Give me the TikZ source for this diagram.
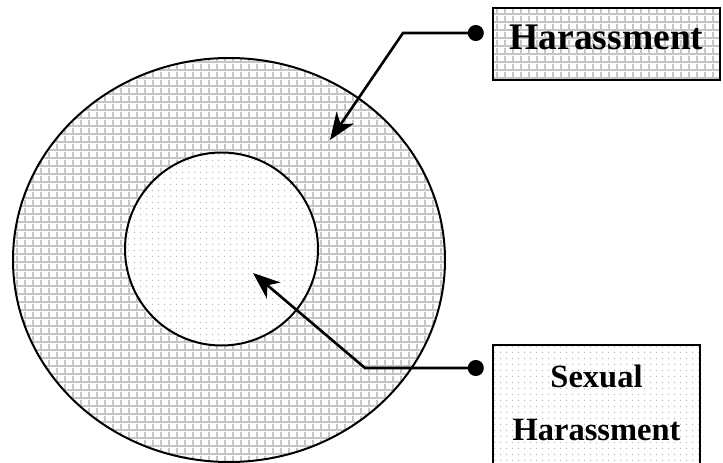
\documentclass[tikz,border=0pt]{standalone}
\usepackage{fontspec}
\setmainfont{Liberation Serif}
\usepackage{tikz}
\usetikzlibrary{arrows.meta,shapes.geometric,patterns.meta}

\tikzdeclarepattern{
  name=crossgrid,
  type=colored,
  bottom left={(0pt,0pt)},
  top right={(8pt,8pt)},
  tile size={(8pt,8pt)},
  code={
    \fill[gray!45] (0pt,0pt) rectangle (8pt,2.2pt);
    \fill[gray!45] (0pt,0pt) rectangle (2.2pt,8pt);
  }
}
\tikzdeclarepattern{
  name=finedots,
  type=colored,
  bottom left={(0pt,0pt)},
  top right={(6pt,6pt)},
  tile size={(6pt,6pt)},
  code={
    \fill[gray!55] (3pt,3pt) circle (0.8pt);
  }
}

\begin{document}
\begin{tikzpicture}[
  x=1pt,y=-1pt,
  >={Stealth[length=27pt,width=21pt,inset=8pt]},
  ring/.style={draw,line width=2pt,inner sep=0pt},
  label box/.style={rectangle,draw,line width=2.4pt,inner sep=0pt,align=center},
  pointer/.style={{Circle[length=16pt]}->,line width=2.6pt,shorten <=8pt}
]
  \useasboundingbox (0,0) rectangle (723,463);
  \clip (0,0) rectangle (723,463);

  \node[ring,ellipse,minimum width=432pt,minimum height=404pt,
    pattern=crossgrid] (outer) at (229,260) {};
  \node[ring,circle,minimum size=193pt,preaction={fill=white},
    pattern=finedots] (inner) at (221.5,249) {};

  \node[label box,minimum width=227pt,minimum height=72pt,text depth=13pt,
    pattern=crossgrid,font=\fontsize{37.5}{44}\selectfont\bfseries]
    (hbox) at (606.5,44) {Harassment};
  \node[label box,minimum width=207pt,minimum height=135pt,text depth=20pt,
    pattern=finedots,font=\fontsize{32.5}{53}\selectfont\bfseries]
    (sbox) at (596.5,412.5) {Sexual\\Harassment};

  \coordinate (hbend) at (403,33);
  \coordinate (htip) at (330,140);
  \coordinate (sbend) at (365,368);
  \coordinate (stip) at (253,273);

  \draw[pointer] (hbend -| hbox.west) -- (hbend) -- (htip);
  \draw[pointer] (sbend -| sbox.west) -- (sbend) -- (stip);
\end{tikzpicture}
\end{document}
